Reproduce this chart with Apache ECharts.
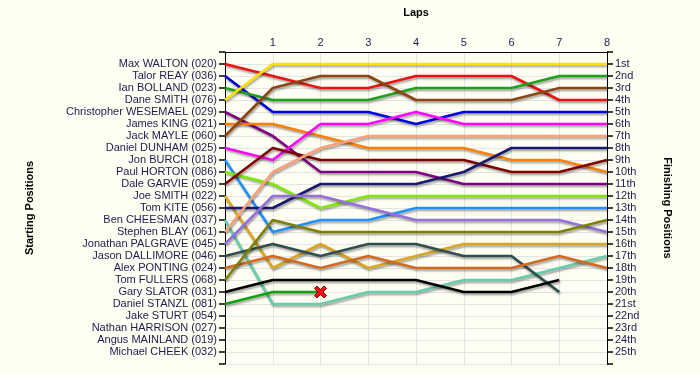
<!DOCTYPE html>
<html>
<head>
<meta charset="utf-8">
<script src="https://cdn.jsdelivr.net/npm/echarts@6/dist/echarts.min.js"></script>
<style>
html,body{margin:0;padding:0;background:#fefef3;}
#chart{width:700px;height:375px;}
</style>
</head>
<body>
<div id="chart"></div>
<script>
// Starting grid (position 1..25)
const starters = [
  "Max WALTON (020)", "Talor REAY (036)", "Ian BOLLAND (023)", "Dane SMITH (076)",
  "Christopher WESEMAEL (029)", "James KING (021)", "Jack MAYLE (060)", "Daniel DUNHAM (025)",
  "Jon BURCH (018)", "Paul HORTON (086)", "Dale GARVIE (059)", "Joe SMITH (022)",
  "Tom KITE (056)", "Ben CHEESMAN (037)", "Stephen BLAY (061)", "Jonathan PALGRAVE (045)",
  "Jason DALLIMORE (046)", "Alex PONTING (024)", "Tom FULLERS (068)", "Gary SLATOR (031)",
  "Daniel STANZL (081)", "Jake STURT (054)", "Nathan HARRISON (027)", "Angus MAINLAND (019)",
  "Michael CHEEK (032)"
];
const finishLabels = ["1st","2nd","3rd","4th","5th","6th","7th","8th","9th","10th","11th","12th","13th",
  "14th","15th","16th","17th","18th","19th","20th","21st","22nd","23rd","24th","25th"];
const lapLabels = ["", "1", "2", "3", "4", "5", "6", "7", "8"];

// Position at each lap (index = lap number, lap 0 = start)
const posWALTON    = [1, 2, 3, 3, 2, 2, 2, 4, 4];
const posREAY      = [2, 5, 5, 5, 6, 5, 5, 5, 5];
const posBOLLAND   = [3, 4, 4, 4, 3, 3, 3, 2, 2];
const posDSMITH    = [4, 1, 1, 1, 1, 1, 1, 1, 1];
const posWESEMAEL  = [5, 7, 10, 10, 10, 11, 11, 11, 11];
const posKING      = [6, 6, 7, 8, 8, 8, 9, 9, 10];
const posMAYLE     = [7, 3, 2, 2, 4, 4, 4, 3, 3];
const posDUNHAM    = [8, 9, 6, 6, 5, 6, 6, 6, 6];
const posBURCH     = [9, 15, 14, 14, 13, 13, 13, 13, 13];
const posHORTON    = [10, 11, 13, 12, 12, 12, 12, 12, 12];
const posGARVIE    = [11, 8, 9, 9, 9, 9, 10, 10, 9];
const posJSMITH    = [12, 18, 16, 18, 17, 16, 16, 16, 16];
const posKITE      = [13, 13, 11, 11, 11, 10, 8, 8, 8];
const posCHEESMAN  = [14, 21, 21, 20, 20, 19, 19, 18, 17];
const posBLAY      = [15, 10, 8, 7, 7, 7, 7, 7, 7];
const posPALGRAVE  = [16, 12, 12, 13, 14, 14, 14, 14, 15];
const posDALLIMORE = [17, 16, 17, 16, 16, 17, 17, 20];
const posPONTING   = [18, 17, 18, 17, 18, 18, 18, 17, 18];
const posFULLERS   = [19, 14, 15, 15, 15, 15, 15, 15, 14];
const posSLATOR    = [20, 19, 19, 19, 19, 20, 20, 19];
const posSTANZL    = [21, 20, 20];

const drivers = [
  {name: starters[0],  pos: posWALTON,    color: '#ee1111'},
  {name: starters[1],  pos: posREAY,      color: '#0000dd'},
  {name: starters[2],  pos: posBOLLAND,   color: '#1ea01e'},
  {name: starters[3],  pos: posDSMITH,    color: '#ffe000'},
  {name: starters[4],  pos: posWESEMAEL,  color: '#800080'},
  {name: starters[5],  pos: posKING,      color: '#ff8000'},
  {name: starters[6],  pos: posMAYLE,     color: '#8b4513'},
  {name: starters[7],  pos: posDUNHAM,    color: '#ff00ff'},
  {name: starters[8],  pos: posBURCH,     color: '#1e90ff'},
  {name: starters[9],  pos: posHORTON,    color: '#80e800'},
  {name: starters[10], pos: posGARVIE,    color: '#800000'},
  {name: starters[11], pos: posJSMITH,    color: '#daa520'},
  {name: starters[12], pos: posKITE,      color: '#191970'},
  {name: starters[13], pos: posCHEESMAN,  color: '#66cdaa'},
  {name: starters[14], pos: posBLAY,      color: '#ffa07a'},
  {name: starters[15], pos: posPALGRAVE,  color: '#9370db'},
  {name: starters[16], pos: posDALLIMORE, color: '#2f4f4f'},
  {name: starters[17], pos: posPONTING,   color: '#d2691e'},
  {name: starters[18], pos: posFULLERS,   color: '#808000'},
  {name: starters[19], pos: posSLATOR,    color: '#000000'},
  {name: starters[20], pos: posSTANZL,    color: '#10a010', retired: true}
];

const textColor = '#1c1c50';
const font = 'Liberation Sans, Arial, sans-serif';

const series = drivers.map(d => {
  const s = {
    name: d.name,
    type: 'line',
    xAxisIndex: 0,
    yAxisIndex: 0,
    symbol: 'none',
    data: d.pos.map((p, i) => [i, p]),
    lineStyle: {
      color: d.color, width: 2.6,
      shadowColor: 'rgba(0,0,0,0.35)', shadowBlur: 2, shadowOffsetX: 1, shadowOffsetY: 2
    },
    itemStyle: {color: d.color},
    emphasis: {disabled: true},
    animation: false
  };
  if (d.retired) {
    const last = d.pos.length - 1;
    s.markPoint = {
      symbol: 'path://M2,0 L5,3 L8,0 L10,2 L7,5 L10,8 L8,10 L5,7 L2,10 L0,8 L3,5 L0,2 Z',
      symbolSize: 12,
      label: {show: false},
      itemStyle: {color: '#ff1010', borderColor: '#700000', borderWidth: 1},
      data: [{coord: [last, d.pos[last]]}]
    };
  }
  return s;
});

const chart = echarts.init(document.getElementById('chart'));
chart.setOption({
  grid: {left: 225, right: 93, top: 52, bottom: 11},
  xAxis: {
    type: 'value', position: 'top', min: 0, max: 8, interval: 1,
    name: 'Laps', nameLocation: 'middle', nameGap: 34,
    nameTextStyle: {fontFamily: font, fontWeight: 'bold', fontSize: 11, color: '#000'},
    axisLine: {show: true, lineStyle: {color: '#000', width: 1}},
    axisTick: {show: true, length: 0},
    axisLabel: {formatter: v => lapLabels[v] || '', color: textColor, fontFamily: font, fontSize: 11, margin: 4},
    splitLine: {show: true, lineStyle: {color: '#e4e4e4', width: 1}}
  },
  yAxis: [{
    type: 'value', position: 'left', inverse: true, min: 0, max: 26, interval: 1,
    name: 'Starting Positions', nameLocation: 'middle', nameGap: 190,
    nameTextStyle: {fontFamily: font, fontWeight: 'bold', fontSize: 11, color: '#000'},
    axisLine: {show: true, lineStyle: {color: '#000', width: 1}},
    axisTick: {show: true, length: 6, lineStyle: {color: '#000', width: 1.5}},
    axisLabel: {formatter: v => starters[v - 1] || '', color: textColor, fontFamily: font, fontSize: 11, margin: 8},
    splitLine: {show: true, lineStyle: {color: '#e4e4e4', width: 1}}
  }, {
    type: 'value', position: 'right', inverse: true, min: 0, max: 26, interval: 1,
    name: 'Finishing Positions', nameLocation: 'middle', nameGap: 55, nameRotate: -90,
    nameTextStyle: {fontFamily: font, fontWeight: 'bold', fontSize: 11, color: '#000'},
    axisLine: {show: true, lineStyle: {color: '#000', width: 1}},
    axisTick: {show: true, length: 6, lineStyle: {color: '#000', width: 1.5}},
    axisLabel: {formatter: v => finishLabels[v - 1] || '', color: textColor, fontFamily: font, fontSize: 11, margin: 8},
    splitLine: {show: false}
  }],
  series: series
});
</script>
</body>
</html>
